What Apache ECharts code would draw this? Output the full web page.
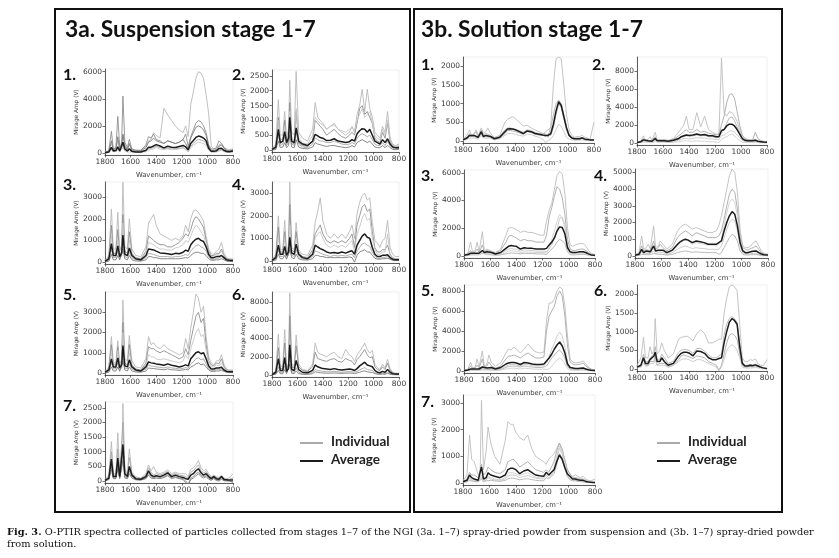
<!DOCTYPE html>
<html>
<head>
<meta charset="utf-8">
<title>O-PTIR spectra, NGI stages 1-7</title>
<script src="https://cdn.jsdelivr.net/npm/echarts@6/dist/echarts.min.js"></script>
<style>
    html, body { margin: 0; padding: 0; background: #fff; }
    #chart { width: 839px; height: 558px; }
</style>
</head>
<body>
<div id="chart"></div>
<script type="text/javascript">
// wavenumber grid (cm-1) shared by every spectrum
var wavenumbers = [1800,1770,1750,1735,1715,1700,1685,1670,1660,1645, 1625,1610,1590,1560,1520,1480,1460,1440,1420,1400,
    1370,1340,1310,1280,1250,1220,1190,1170,1150,1130, 1110,1090,1070,1050,1030,1010,990,970,950,930, 910,890,870,850,830,800];
var xTicks = [1800, 1600, 1400, 1200, 1000, 800];

// ---- 3a suspension ----
var susp1Avg = [20,80,420,150,180,450,150,250,800,300, 150,320,120,80,80,200,420,430,520,620, 520,380,500,430,400,480,560,450,250,700, 920,1150,1250,1200,1100,900,350,120,120,160, 330,350,200,110,100,140];
var susp1Ind = [
    [50,150,700,300,300,900,300,400,1300,600, 300,600,300,200,200,500,900,1000,1500,1300, 1100,3300,2800,2400,2000,1700,1500,2000,1200,3600, 4500,5500,6000,5900,5500,4300,2900,500,300,350, 600,700,400,300,250,300],
    [30,200,1600,300,400,2700,400,600,4200,800, 400,1000,300,200,200,600,1200,1100,1400,1000, 900,700,900,800,700,800,1000,1400,500,1200, 1700,2200,2400,2300,2000,1500,600,300,300,400, 900,700,400,200,150,250],
    [10,60,300,100,120,350,120,200,600,200, 100,250,100,60,60,150,300,350,400,500, 400,300,350,300,300,350,400,300,100,500, 700,900,1000,950,900,700,250,80,80,100, 200,250,150,80,60,100],
    [40,120,900,250,300,1200,250,400,1400,500, 250,700,200,150,150,400,800,900,1100,900, 800,700,900,800,700,800,1000,700,300,1100, 1500,1900,2000,1900,1700,1300,500,200,200,250, 500,600,350,200,150,200],
    [0,40,200,80,100,250,80,150,400,150, 80,180,60,40,40,100,200,250,300,400, 300,250,300,250,250,300,350,250,80,400, 550,700,800,750,700,550,200,60,60,80, 150,200,100,50,40,80]
];
var susp2Avg = [20,100,700,250,300,620,250,400,1100,300, 250,750,300,200,150,300,530,480,420,400, 320,330,380,300,280,250,280,350,300,550, 650,720,700,600,700,500,300,250,200,350, 250,380,200,100,80,80];
var susp2Ind = [
    [30,200,1700,500,500,1300,400,700,2350,600, 500,2650,600,400,300,700,1600,1100,1000,900, 700,800,900,700,600,500,600,800,600,1200, 1500,2050,1300,2050,1400,1100,600,500,400,800, 600,1300,400,200,150,200],
    [0,80,1100,200,300,1000,200,400,1600,250, 200,1300,250,150,120,300,1000,900,800,700, 500,600,700,550,450,400,500,600,500,900, 1400,1500,1200,1300,1100,900,400,300,250,600, 400,900,300,150,100,120],
    [10,60,500,150,200,450,150,250,800,200, 150,600,200,100,80,200,400,350,300,300, 250,250,300,250,200,180,200,250,200,400, 500,550,500,450,500,350,200,150,150,250, 150,300,150,60,40,50],
    [0,20,300,80,100,250,80,150,500,100, 80,350,100,50,40,100,250,200,180,150, 120,150,150,120,100,80,100,150,100,250, 300,350,300,250,300,200,100,80,80,150, 80,150,80,20,10,20],
    [20,150,1000,300,400,800,300,500,1300,400, 300,1400,400,250,200,500,1100,1000,900,850, 700,800,850,700,650,600,700,750,650,1000, 1200,1400,1100,1200,1300,900,500,400,350,700, 500,1000,350,150,120,150]
];
var susp3Avg = [30,150,850,300,300,750,250,400,1250,350, 300,650,300,150,100,300,600,580,560,500, 420,400,380,350,400,380,450,550,500,800, 950,1050,1100,1000,950,700,350,200,200,250, 250,300,200,100,80,70];
var susp3Ind = [
    [50,300,2450,600,600,2300,500,800,3700,700, 600,2000,600,300,250,700,1800,2000,2200,1700, 1300,1200,1100,1000,1100,1000,1200,1700,1400,2000, 2350,2400,2300,2100,1900,1200,600,400,350,500, 600,900,400,200,150,150],
    [30,200,1700,400,400,1500,300,500,2200,500, 400,1400,400,200,150,500,1200,1100,1000,900, 800,800,700,700,800,900,1100,1300,1200,1500, 1900,2100,2000,1800,1600,1000,500,300,300,400, 400,600,300,150,100,100],
    [10,80,600,200,200,500,150,300,900,250, 200,450,200,100,80,200,400,380,350,300, 250,250,250,220,250,250,300,350,300,500, 650,750,800,700,650,500,250,120,120,160, 180,250,150,60,40,40],
    [0,40,350,100,100,300,100,150,600,150, 100,300,100,50,40,100,250,250,200,200, 150,150,150,150,150,150,180,200,180,300, 400,450,450,400,400,300,150,80,80,100, 100,150,100,40,20,30],
    [20,100,1200,300,300,1000,250,400,1800,400, 300,1000,300,150,120,400,900,850,800,700, 600,600,550,550,650,700,800,1000,900,1200, 1500,1700,1600,1400,1200,900,400,250,250,350, 350,500,250,100,80,80]
];
var susp4Avg = [30,150,700,300,300,650,250,400,1050,350, 300,750,300,150,100,300,700,620,550,500, 400,350,380,340,400,350,420,450,300,700, 900,1100,1200,1050,1000,600,300,200,200,250, 250,280,150,80,60,60];
var susp4Ind = [
    [50,300,2000,500,500,1800,400,700,3500,600, 500,1700,500,300,250,700,1700,2200,2800,1800, 1200,1000,1200,1000,1200,1000,1300,1600,1000,2100, 2600,2900,3000,2700,2800,1700,900,800,600,900, 1000,1800,600,300,200,200],
    [30,200,1500,400,400,1300,300,500,2500,500, 400,1300,400,200,150,500,1200,1400,1600,1200, 900,800,900,800,900,800,1000,1200,600,1600, 2000,2400,2500,2200,2300,1300,600,400,400,500, 500,700,300,150,100,100],
    [10,80,500,200,200,400,150,250,700,250, 200,500,200,100,80,200,450,400,350,300, 250,200,250,220,250,220,280,300,150,450, 600,750,800,700,650,400,200,120,120,160, 160,200,100,50,40,40],
    [0,40,300,100,100,250,80,150,500,150, 100,300,100,50,40,100,250,250,200,200, 150,150,150,150,150,150,180,150,-50,250, 400,450,500,400,400,250,120,80,80,100, 100,120,80,30,20,20],
    [20,120,1100,300,300,1000,250,400,1600,400, 300,1000,300,150,120,400,1000,1200,1300,1000, 700,600,700,600,700,600,800,900,400,1200, 1500,1900,2100,1800,1900,1000,500,300,300,400, 400,1200,250,120,80,80]
];
var susp5Avg = [30,150,700,300,300,750,250,400,1350,350, 300,650,300,150,100,300,550,500,480,450, 420,380,450,380,350,300,350,400,350,700, 850,1000,1050,950,1000,700,350,200,200,250, 250,280,150,80,60,60];
var susp5Ind = [
    [50,300,1800,500,500,1600,400,700,3600,700, 600,1850,600,300,250,700,1800,1400,1500,1300, 1200,1400,1200,1100,1000,900,1000,1700,1200,2200, 3000,3900,3700,3000,3300,1800,800,500,400,600, 600,900,400,200,150,150],
    [30,200,1400,400,400,1300,300,500,2500,500, 400,1400,400,200,150,500,1300,1200,1200,1100, 1000,1100,1000,900,800,700,800,1200,900,1600, 2200,2800,3000,2500,2700,1400,600,400,350,500, 450,700,300,150,100,100],
    [10,80,500,200,200,500,150,250,900,250, 200,450,200,100,80,200,400,350,330,300, 280,250,300,250,230,200,230,270,230,450, 550,700,750,650,700,450,220,120,120,160, 160,200,100,50,40,40],
    [0,40,300,100,100,300,80,150,600,150, 100,300,100,50,40,100,250,230,220,200, 180,160,200,160,150,130,150,180,150,300, 350,450,500,400,450,300,150,80,80,100, 100,130,80,30,20,20],
    [20,120,1000,300,300,1100,250,400,2000,400, 300,1000,300,150,120,400,900,800,800,700, 650,700,650,600,550,500,600,900,700,1200, 1600,2000,2200,1800,1900,1100,500,300,300,400, 350,500,250,120,80,80]
];
var susp6Avg = [50,300,1800,500,500,1900,400,700,3300,600, 500,1600,600,300,250,500,1100,900,800,700, 650,600,700,600,550,600,650,600,500,700, 1000,1200,1400,1100,1000,900,500,300,250,400, 300,600,300,150,100,100];
var susp6Ind = [
    [80,500,4500,1000,900,5000,800,1200,9000,1200, 1000,4400,1200,600,500,1200,3500,2500,2300,2200, 2000,2300,2500,2000,1800,2800,2200,2000,1500,2200, 2600,3000,3500,2800,2400,2700,1200,800,600,1200, 800,1700,700,300,200,200],
    [60,400,3000,700,700,3500,600,1000,6500,900, 800,3200,900,500,400,900,2500,1800,1700,1600, 1500,1700,1800,1500,1400,1800,1600,1500,1100,1700, 2000,2400,2800,2200,1900,2000,900,600,500,900, 600,1300,500,250,150,150],
    [20,150,900,300,300,1000,250,400,2000,350, 300,800,300,150,120,300,600,500,450,400, 380,350,400,350,300,350,380,350,300,400, 550,700,800,600,550,500,280,150,130,200, 150,300,150,70,50,50],
    [10,80,500,150,150,600,150,250,1200,200, 150,450,150,80,60,150,350,300,250,220, 200,200,220,200,180,200,220,200,160,230, 300,400,450,350,300,280,150,80,70,110, 80,180,80,40,30,30]
];
var susp7Avg = [20,100,750,150,150,780,150,200,1250,250, 150,500,200,80,60,150,350,200,150,180, 150,200,280,150,200,150,120,80,60,200, 250,350,420,280,200,250,150,80,150,80, 60,150,50,40,30,30];
var susp7Ind = [
    [40,200,1350,250,250,1650,250,350,2650,400, 250,1100,300,150,100,250,550,350,500,300, 250,300,380,250,300,250,250,250,150,400, 450,550,700,450,350,400,250,150,200,150, 120,200,100,80,100,250],
    [10,60,500,100,100,500,100,150,900,150, 100,350,150,50,40,100,250,150,100,150, 120,150,220,120,150,100,80,0,-100,100, 150,250,300,200,150,180,100,50,100,50, 30,100,30,20,10,-50],
    [30,150,1000,200,200,1100,200,250,2000,300, 200,800,250,100,80,200,450,300,200,250, 200,250,320,200,250,200,180,150,100,300, 350,450,550,350,280,320,200,120,180,120, 90,180,80,60,50,100],
    [0,50,400,80,80,400,80,100,700,100, 80,250,100,40,30,80,200,100,80,100, 80,120,180,80,120,80,50,-50,-150,50, 100,180,250,150,100,150,60,20,80,20, 0,60,10,0,0,-30]
];

// ---- 3b solution ----
var sol1Avg = [30,80,150,100,150,200,100,150,250,120, 150,180,120,60,100,250,320,330,320,300, 250,200,270,250,200,180,160,150,150,200, 450,800,1050,950,650,350,150,80,60,60, 60,80,50,40,30,30];
var sol1Ind = [
    [50,150,300,150,200,300,150,200,350,200, 250,350,200,100,150,500,580,620,650,600, 500,400,420,350,300,250,200,200,100,400, 1500,2200,2250,2200,1500,700,300,150,100,120, 120,150,100,80,50,500],
    [20,60,120,80,120,150,80,120,200,100, 120,150,100,50,80,200,280,280,270,250, 220,180,250,230,180,160,150,120,200,150, 350,700,1000,900,600,300,130,70,50,50, 50,70,40,30,30,20],
    [10,40,80,50,80,100,50,80,150,80, 80,100,80,30,60,150,200,200,200,180, 150,130,180,170,130,100,50,-50,20,50, 150,300,450,400,250,100,50,30,20,20, 20,30,20,10,10,10],
    [40,100,200,120,180,250,120,180,300,150, 200,250,150,80,120,300,350,350,330,300, 280,230,300,280,230,200,180,250,300,350, 700,1000,1100,1000,700,400,180,100,80,80, 80,100,60,50,40,40]
];
var sol2Avg = [50,150,350,200,250,300,200,250,500,250, 250,300,250,200,300,500,700,800,900,850, 900,1000,900,950,800,800,700,700,1400,1500, 1900,2100,2100,1900,1500,1000,500,300,250,250, 250,300,200,150,100,80];
var sol2Ind = [
    [80,250,800,300,400,700,300,400,1200,400, 400,500,400,300,500,1200,1600,2000,3000,1500, 1500,3400,1800,3000,1500,1200,1000,900,9500,3400, 3000,3500,3400,3000,2400,1500,700,400,350,300, 300,400,250,200,150,100],
    [60,200,500,250,300,400,250,300,700,300, 300,400,300,250,400,800,1000,1300,1500,1200, 1200,1500,1200,1300,1100,1000,900,1000,2000,3000, 4500,5400,5500,5000,3500,2000,900,500,400,350, 350,1200,500,300,200,150],
    [20,80,200,100,150,200,100,150,300,150, 150,200,150,100,150,300,400,500,500,450, 500,600,550,550,450,450,400,400,800,900, 1100,1300,1400,1200,900,600,300,150,150,150, 150,200,100,80,50,40],
    [40,100,250,150,200,250,150,200,400,200, 200,250,200,150,250,400,600,700,800,750, 800,900,800,850,700,700,600,700,1100,1500, 2200,2800,2900,2500,1800,1100,500,300,250,250, 250,350,200,150,100,70],
    [0,50,100,50,80,100,50,80,150,80, 80,100,80,50,80,150,200,250,250,200, 200,250,200,200,150,150,100,50,400,600, 700,900,1000,800,500,300,100,50,50,50, 50,80,40,30,20,10]
];
var sol3Avg = [50,100,200,150,200,250,200,200,400,250, 300,300,250,150,250,550,700,750,720,700, 500,600,550,550,500,500,500,550,800,1000, 1300,1800,2100,2050,1600,600,300,250,250,280, 300,300,250,150,80,50];
var sol3Ind = [
    [80,200,1000,300,400,1000,300,400,1750,400, 500,400,350,250,500,1500,2000,2050,2000,1900, 1700,1800,1700,1700,1600,1500,1500,2500,3300,3800, 4800,5800,6100,5900,4500,2000,800,700,800,850, 900,900,700,400,200,100],
    [60,150,400,200,300,500,250,300,800,300, 400,350,300,200,400,1000,1400,1500,1400,1300, 1100,1200,1100,1100,1000,1000,1000,1500,2800,3500, 4300,5000,4800,4200,3000,1200,500,400,400,450, 500,500,400,250,120,60],
    [30,70,150,100,150,200,150,150,300,200, 200,200,150,100,150,400,500,550,500,500, 350,450,400,400,350,350,350,300,500,800, 1200,1900,2700,2800,2300,800,300,200,200,220, 250,250,200,120,60,40],
    [10,30,80,50,80,100,80,80,200,100, 100,100,80,50,80,150,200,220,200,200, 150,200,180,180,150,150,150,100,300,500, 700,1000,1200,1100,900,300,100,80,80,100, 120,120,100,60,30,20],
    [20,50,100,80,100,150,100,100,250,150, 150,150,120,80,100,250,350,380,360,350, 250,300,280,280,250,250,250,200,600,1200, 1800,2500,3000,2700,2000,500,200,150,150,180, 200,200,150,80,40,30]
];
var sol4Avg = [50,100,400,200,300,400,250,300,600,300, 350,450,350,200,350,700,850,950,1000,950, 800,900,850,800,700,700,700,800,900,1500, 2000,2400,2650,2500,1800,800,300,200,200,250, 280,300,200,120,80,60];
var sol4Ind = [
    [80,200,1200,400,500,700,400,500,1800,500, 600,900,700,400,700,1500,1700,1850,1900,1800, 1600,1700,1600,1500,1400,1400,1500,1800,2400,3200, 4000,4800,5200,5000,3800,1600,600,500,500,600, 800,900,600,300,150,100],
    [60,150,600,300,400,500,300,400,900,400, 500,700,500,300,500,1100,1300,1400,1500,1400, 1200,1400,1300,1200,1100,1100,1100,1200,1500,2200, 3000,3700,4000,3800,2800,1200,500,400,350,450, 500,600,400,200,120,80],
    [20,60,200,100,150,200,150,150,300,150, 200,250,200,100,200,400,500,550,600,550, 450,500,450,450,400,400,400,400,600,1100, 1600,2000,2200,2100,1500,600,200,120,120,150, 150,180,100,60,40,30],
    [10,30,100,50,80,100,80,80,150,80, 100,150,100,50,100,200,250,280,300,280, 220,250,220,220,200,200,200,100,200,500, 800,1100,1300,1200,900,300,100,60,60,80, 80,100,60,30,20,10],
    [30,80,300,150,200,300,200,200,450,250, 300,400,300,150,300,600,800,900,950,900, 700,800,750,700,650,650,600,700,1000,1800, 2600,3200,3400,3200,2400,1000,400,250,250,300, 300,350,250,150,90,60]
];
var sol5Avg = [30,100,200,150,200,250,200,250,400,250, 300,400,350,200,350,700,800,850,850,800, 650,850,800,700,650,650,700,1000,1300,1700, 2200,2600,2900,2500,1800,700,350,300,250,250, 280,300,200,120,80,60];
var sol5Ind = [
    [60,200,900,300,400,1200,400,500,2000,500, 700,1600,800,500,800,1800,2200,2100,2400,2200, 1800,2200,2700,2200,1900,1800,1900,5000,6800,6800, 7200,8000,8400,8200,6500,3500,1200,900,800,850, 900,1000,700,400,200,100],
    [40,150,500,250,300,600,300,400,1200,350, 500,900,500,300,500,1200,1500,1500,1600,1500, 1300,1600,1800,1500,1300,1300,1400,4000,5500,6000, 6500,7500,8000,7500,5500,2500,900,700,600,650, 700,800,500,300,150,80],
    [20,80,150,100,150,200,150,150,300,200, 200,300,250,150,250,500,600,650,650,600, 500,650,650,550,500,500,550,800,1500,2200, 2800,3500,3900,3500,2400,900,400,300,250,250, 280,300,200,100,60,40],
    [10,50,100,70,100,120,100,120,200,120, 150,200,150,80,150,350,450,500,500,450, 400,500,450,400,350,350,400,500,900,1300, 1600,1900,2100,1800,1300,450,200,150,120,120, 130,150,100,60,40,30],
    [0,20,50,30,50,60,50,60,100,60, 80,100,80,40,80,200,250,280,280,250, 200,280,250,200,180,180,200,150,200,500, 800,1100,1300,1100,700,250,100,80,60,60, 60,80,50,30,20,10]
];
var sol6Avg = [50,100,300,150,150,250,200,350,450,200, 200,300,200,100,150,350,420,450,450,430, 350,480,470,420,300,250,250,280,300,700, 1000,1250,1350,1300,1200,600,150,80,80,100, 90,110,80,50,30,10];
var sol6Ind = [
    [80,300,850,300,300,600,400,500,1350,400, 500,700,500,300,400,800,850,860,880,850, 750,950,1050,950,700,700,750,800,800,1500, 1900,2200,2250,2200,2100,1200,300,200,200,250, 230,270,150,100,80,250],
    [20,80,250,100,100,200,150,200,350,100, 150,200,150,50,100,250,350,380,350,330, 280,350,330,300,200,150,100,-30,100,400, 700,900,950,900,800,400,100,50,50,70, 60,80,60,40,20,0],
    [30,50,150,80,80,150,100,150,250,100, 100,150,100,50,100,200,250,270,270,250, 200,250,250,200,150,100,50,-50,50,250, 500,600,650,600,500,300,50,30,20,30, 30,40,30,20,10,0],
    [40,100,400,200,200,300,250,400,600,250, 250,400,300,150,200,450,500,520,520,500, 420,550,550,480,380,300,300,350,400,900, 1200,1350,1400,1350,1250,700,200,100,100,120, 110,130,100,70,40,20]
];
var sol7Avg = [50,100,300,200,150,150,100,150,600,150, 200,380,300,250,200,300,500,550,550,500, 350,450,500,400,300,270,250,400,300,400, 500,800,1050,900,600,350,250,150,150,120, 100,100,60,40,30,20];
var sol7Ind = [
    [80,300,1800,900,800,800,300,400,3100,500, 1200,2100,1500,1000,700,1600,2300,2200,2200,1900, 1700,1600,1800,1300,1000,900,800,700,900,1000, 1100,1300,1500,1200,900,500,350,250,300,250, 200,250,150,100,80,150],
    [60,150,400,300,300,300,200,250,700,300, 400,600,500,400,350,500,800,850,900,800, 600,700,800,650,500,450,400,500,400,600, 800,1200,1500,1300,900,500,350,200,200,180, 150,150,100,60,40,30],
    [30,60,200,100,80,80,60,80,200,80, 100,200,150,120,100,150,250,300,300,280, 200,250,280,220,180,160,150,300,200,300, 450,900,1300,1100,700,300,150,100,100,80, 60,60,40,30,20,10],
    [20,40,100,60,50,50,40,50,150,50, 80,150,100,80,60,100,150,180,180,160, 120,150,160,130,100,90,80,200,150,250, 350,700,1100,950,550,250,120,80,80,60, 50,40,30,20,10,0],
    [40,80,150,100,100,100,80,100,300,100, 150,250,200,150,120,200,350,400,380,350, 280,350,380,300,220,200,180,350,250,400, 600,1000,1400,1200,800,400,200,150,130,100, 80,80,50,30,20,10]
];

// panel layout: left, width, top, pixel row of zero, axis top value, tick step
var panels = [
    {avg: susp1Avg, ind: susp1Ind, ymax: 6200, step: 2000, top: 6000, left: 105, width: 128, y0px: 153, toppx: 69, label: '1.', lx: 63, ly: 76, dark: true},
    {avg: susp2Avg, ind: susp2Ind, ymax: 2700, step: 500, top: 2500, left: 272, width: 127, y0px: 150, toppx: 70, label: '2.', lx: 232, ly: 76, dark: true},
    {avg: susp3Avg, ind: susp3Ind, ymax: 3700, step: 1000, top: 3000, left: 105, width: 128, y0px: 262, toppx: 182, label: '3.', lx: 63, ly: 186, dark: true},
    {avg: susp4Avg, ind: susp4Ind, ymax: 3500, step: 1000, top: 3000, left: 272, width: 127, y0px: 261, toppx: 182, label: '4.', lx: 232, ly: 186, dark: true},
    {avg: susp5Avg, ind: susp5Ind, ymax: 4000, step: 1000, top: 3000, left: 105, width: 128, y0px: 373, toppx: 292, label: '5.', lx: 63, ly: 296, dark: true},
    {avg: susp6Avg, ind: susp6Ind, ymax: 9100, step: 2000, top: 8000, left: 272, width: 127, y0px: 375, toppx: 292, label: '6.', lx: 232, ly: 296, dark: true},
    {avg: susp7Avg, ind: susp7Ind, ymax: 2700, step: 500, top: 2500, left: 105, width: 128, y0px: 481, toppx: 402, label: '7.', lx: 63, ly: 407, dark: true},
    {avg: sol1Avg, ind: sol1Ind, ymax: 2250, step: 500, top: 2000, left: 463, width: 131, y0px: 141, toppx: 57, label: '1.', lx: 421, ly: 66},
    {avg: sol2Avg, ind: sol2Ind, ymax: 9600, step: 2000, top: 8000, left: 637, width: 130, y0px: 143, toppx: 57, label: '2.', lx: 592, ly: 66},
    {avg: sol3Avg, ind: sol3Ind, ymax: 6200, step: 2000, top: 6000, left: 464, width: 131, y0px: 256, toppx: 170, label: '3.', lx: 421, ly: 177},
    {avg: sol4Avg, ind: sol4Ind, ymax: 5200, step: 1000, top: 5000, left: 635, width: 133, y0px: 256, toppx: 169, label: '4.', lx: 594, ly: 177},
    {avg: sol5Avg, ind: sol5Ind, ymax: 8600, step: 2000, top: 8000, left: 464, width: 131, y0px: 371, toppx: 285, label: '5.', lx: 421, ly: 292},
    {avg: sol6Avg, ind: sol6Ind, ymax: 2250, step: 500, top: 2000, left: 637, width: 130, y0px: 369, toppx: 285, label: '6.', lx: 594, ly: 292},
    {avg: sol7Avg, ind: sol7Ind, ymax: 3300, step: 1000, top: 3000, left: 463, width: 132, y0px: 483, toppx: 395, label: '7.', lx: 421, ly: 403}
];

var darkGreys = ['#b9b9b9', '#8f8f8f', '#a6a6a6', '#7c7c7c', '#c6c6c6'];
var lightGreys = ['#bdbdbd', '#a9a9a9', '#c8c8c8', '#b2b2b2', '#cfcfcf'];
var tickFont = {fontSize: 7.5, color: '#3a3a3a', fontFamily: 'DejaVu Sans'};

function pairs(vals) {
    var out = [];
    for (var i = 0; i < wavenumbers.length && i < vals.length; i++) {
        out.push([wavenumbers[i], vals[i]]);
    }
    return out;
}
function tickList(step, top) {
    var t = [];
    for (var v = 0; v <= top; v += step) t.push(v);
    return t;
}
function plain(v) { return String(Math.round(v)); }

var grids = [], xAxes = [], yAxes = [], series = [];
var graphics = [];

panels.forEach(function (p, gi) {
    var pad = 2;
    var pxPerUnit = (p.y0px - p.toppx) / p.ymax;
    var ymin = -pad / pxPerUnit;
    grids.push({left: p.left, top: p.toppx, width: p.width, height: p.y0px + pad - p.toppx,
        show: true, borderColor: '#e4e4e4', borderWidth: 0.6});
    xAxes.push({
        type: 'value', gridIndex: gi, inverse: true, min: 800, max: 1800, interval: 200,
        name: 'Wavenumber, cm\u207B\u00B9', nameLocation: 'middle', nameGap: 17,
        nameTextStyle: {fontSize: 6.8, color: '#3a3a3a', fontFamily: 'DejaVu Sans'},
        axisLine: {onZero: false, lineStyle: {color: '#333', width: 0.8}},
        axisTick: {length: 2.5, lineStyle: {color: '#333', width: 0.7}},
        axisLabel: Object.assign({margin: 3, formatter: plain}, tickFont),
        splitLine: {show: false}
    });
    var ticks = tickList(p.step, p.top);
    yAxes.push({
        type: 'value', gridIndex: gi, min: ymin, max: p.ymax,
        name: 'Mirage Amp (V)', nameLocation: 'middle', nameGap: 25,
        nameTextStyle: {fontSize: 5.8, color: '#3a3a3a', fontFamily: 'DejaVu Sans'},
        axisLine: {show: true, lineStyle: {color: '#333', width: 0.8}},
        axisTick: {show: true, length: 2.5, customValues: ticks, lineStyle: {color: '#333', width: 0.7}},
        axisLabel: Object.assign({margin: 3, customValues: ticks, formatter: plain}, tickFont),
        splitLine: {show: false}
    });
    var greys = p.dark ? darkGreys : lightGreys;
    p.ind.forEach(function (vals, k) {
        series.push({
            type: 'line', xAxisIndex: gi, yAxisIndex: gi, data: pairs(vals),
            showSymbol: false, silent: true, z: 2,
            lineStyle: {color: greys[k % greys.length], width: 0.9}
        });
    });
    series.push({
        type: 'line', xAxisIndex: gi, yAxisIndex: gi, data: pairs(p.avg),
        showSymbol: false, silent: true, z: 3,
        lineStyle: {color: '#1c1c1c', width: 1.5}
    });
    graphics.push({
        type: 'text', left: p.lx, top: p.ly - 9,
        style: {text: p.label, font: 'bold 16px Lato', fill: '#111'}
    });
});

// frames, titles, legends, caption
graphics.push(
    {type: 'rect', shape: {x: 55, y: 9, width: 355, height: 503}, style: {fill: 'none', stroke: '#111', lineWidth: 2}},
    {type: 'rect', shape: {x: 414, y: 9, width: 368, height: 503}, style: {fill: 'none', stroke: '#111', lineWidth: 2}},
    {type: 'text', left: 65, top: 18, style: {text: '3a. Suspension stage 1-7', font: 'bold 22.8px Lato', fill: '#111'}},
    {type: 'text', left: 421, top: 18, style: {text: '3b. Solution stage 1-7', font: 'bold 22.8px Lato', fill: '#111'}}
);
[300, 657].forEach(function (x) {
    graphics.push(
        {type: 'line', shape: {x1: x, y1: 443, x2: x + 23, y2: 443}, style: {stroke: '#aaaaaa', lineWidth: 2}},
        {type: 'text', left: x + 31, top: 435, style: {text: 'Individual', font: 'bold 13.5px Lato', fill: '#222'}},
        {type: 'line', shape: {x1: x, y1: 461, x2: x + 23, y2: 461}, style: {stroke: '#1c1c1c', lineWidth: 2}},
        {type: 'text', left: x + 31, top: 453, style: {text: 'Average', font: 'bold 13.5px Lato', fill: '#222'}}
    );
});
graphics.push({
    type: 'text', left: 7, top: 527,
    style: {
        text: '{b|Fig. 3.} O-PTIR spectra collected of particles collected from stages 1\u20137 of the NGI (3a. 1\u20137) spray-dried powder from suspension and (3b. 1\u20137) spray-dried powder\nfrom solution.',
        font: '9.8px "DejaVu Serif"', fill: '#111', lineHeight: 11.5,
        rich: {b: {font: 'bold 9.8px "DejaVu Serif"', fill: '#111'}}
    }
});

var chart = echarts.init(document.getElementById('chart'), null, {renderer: 'canvas'});
chart.setOption({
    animation: false,
    backgroundColor: '#fff',
    grid: grids,
    xAxis: xAxes,
    yAxis: yAxes,
    series: series,
    graphic: graphics
});
</script>
</body>
</html>
